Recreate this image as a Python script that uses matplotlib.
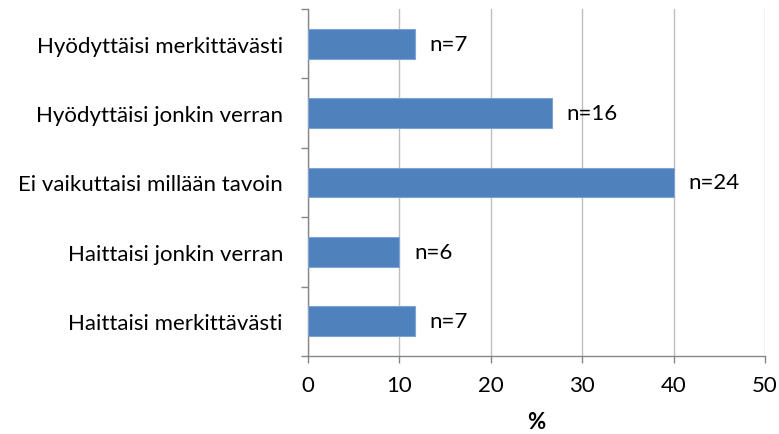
import matplotlib
matplotlib.use("Agg")
import matplotlib.pyplot as plt
from matplotlib.ticker import FixedLocator

plt.rcParams['font.family'] = ['Lato', 'DejaVu Sans']

categories = ["Hyödyttäisi merkittävästi", "Hyödyttäisi jonkin verran",
              "Ei vaikuttaisi millään tavoin", "Haittaisi jonkin verran",
              "Haittaisi merkittävästi"]
counts = [7, 16, 24, 6, 7]
percents = [11.67, 26.67, 40.0, 10.0, 11.67]
labels = [f"n={c}" for c in counts]
xticks = [0, 10, 20, 30, 40, 50]

fig = plt.figure(figsize=(7.79, 4.35), dpi=100)
ax = fig.add_axes([308/779, 1-357/435, (765-308)/779, (357-10)/435])

FS = 16
ypos = list(range(len(categories)))[::-1]
ax.barh(ypos, percents, height=0.43, color='#4F81BD', edgecolor='#7FA3D3', linewidth=0.8, zorder=3)
for y, p, lab in zip(ypos, percents, labels):
    ax.text(p + 1.6, y, lab, va='center', ha='left', fontsize=FS, color='#000000')

ax.set_xlim(0, 50)
ax.set_ylim(-0.5, 4.5)
ax.set_xticks(xticks)
ax.set_xticklabels([str(t) for t in xticks], fontsize=FS)
ax.set_yticks(ypos)
ax.set_yticklabels(categories, fontsize=FS)
ax.yaxis.set_minor_locator(FixedLocator([-0.5, 0.5, 1.5, 2.5, 3.5, 4.5]))
ax.tick_params(axis='y', which='major', length=0, pad=18)
ax.tick_params(axis='y', which='minor', length=5, color='#868686', width=1)
ax.tick_params(axis='x', length=5, color='#868686', width=1, pad=9)
ax.grid(axis='x', color='#BEBEBE', linewidth=1, zorder=0)
for s in ['top', 'right']:
    ax.spines[s].set_visible(False)
for s in ['left', 'bottom']:
    ax.spines[s].set_color('#868686')
    ax.spines[s].set_linewidth(1)
ax.set_xlabel('%', fontsize=FS, fontweight='bold', labelpad=11)

fig.savefig('out.png', dpi=100)
